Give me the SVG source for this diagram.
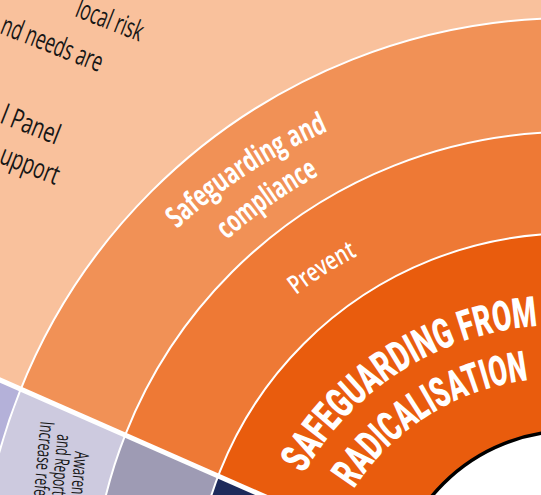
<svg xmlns="http://www.w3.org/2000/svg" width="541" height="495" viewBox="0 0 541 495">
<style>
.note{font-family:"Open Sans","Noto Sans",sans-serif;font-size:28px;fill:#161616}
.seg{font-family:"Open Sans","Noto Sans",sans-serif;font-size:20px;fill:#161616}
.ringlbl{font-family:"Open Sans","Noto Sans",sans-serif;font-weight:700;font-size:30px;fill:#ffffff}
.prev{font-family:"Open Sans","Noto Sans",sans-serif;font-weight:600;font-size:26px;fill:#ffffff}
.core{font-family:"Roboto","Liberation Sans",sans-serif;font-weight:900;font-size:42px;fill:#ffffff}
.arc{fill:none;stroke:#ffffff;stroke-width:2}
</style>
<defs>
<clipPath id="top"><polygon points="-10,-10 600,-10 600,644 -10,375.6"/></clipPath>
<clipPath id="bot"><polygon points="-10,375.6 600,644 600,700 -10,700"/></clipPath>
<path id="p1" d="M177,229 A545,545 0 0 1 328,131"/>
<path id="p2" d="M227,240 A508,508 0 0 1 321,174"/>
<path id="p3" d="M296,295 A418,418 0 0 1 359,255"/>
<path id="p4" d="M304,474 A293,293 0 0 1 538,326"/>
<path id="p5" d="M354,489 A241,241 0 0 1 532,380"/>
</defs>

<g id="upper" clip-path="url(#top)">
  <g id="outer-area"><rect x="-10" y="-10" width="620" height="720" fill="#f9c19c"/></g>
  <g id="ring-safeguarding"><circle cx="570" cy="610" r="592" fill="#f19156"/></g>
  <g id="ring-prevent"><circle cx="570" cy="610" r="478" fill="#ee7935"/></g>
  <g id="ring-core"><circle cx="570" cy="610" r="376.5" fill="#e95c0d"/></g>
</g>
<g id="lower" clip-path="url(#bot)">
  <g id="lower-outer"><rect x="-10" y="-10" width="620" height="720" fill="#b4b1d9"/></g>
  <g id="segment-awareness"><circle cx="570" cy="610" r="592" fill="#cdcadf"/></g>
  <g id="segment-2"><circle cx="570" cy="610" r="478" fill="#9e9bb4"/></g>
  <g id="segment-3"><circle cx="570" cy="610" r="376.5" fill="#1e2b5b"/></g>
</g>
<g id="rings-lines">
  <circle class="arc" cx="570" cy="610" r="592"/>
  <circle class="arc" cx="570" cy="610" r="478"/>
  <circle class="arc" cx="570" cy="610" r="376.5"/>
</g>
<g id="centre"><circle cx="570" cy="610" r="179" fill="#ffffff" stroke="#000000" stroke-width="3.5"/></g>
<g id="connectors"><line x1="-10" y1="375.6" x2="300" y2="512" stroke="#ffffff" stroke-width="5"/></g>

<g id="notes">
  <text class="note" transform="translate(74,16) rotate(21.5)" textLength="70" lengthAdjust="spacingAndGlyphs">local risk</text>
  <text class="note" transform="translate(-1,33) rotate(21.5)" textLength="107" lengthAdjust="spacingAndGlyphs">nd needs are</text>
  <text class="note" transform="translate(-1,122.5) rotate(21.5)" textLength="61" lengthAdjust="spacingAndGlyphs">l Panel</text>
  <text class="note" transform="translate(-2,162.5) rotate(21.5)" textLength="61.5" lengthAdjust="spacingAndGlyphs">upport</text>
</g>
<g id="awareness-label">
  <text class="seg" transform="translate(75,451) rotate(95)" textLength="50" lengthAdjust="spacingAndGlyphs">Awarene</text>
  <text class="seg" transform="translate(57.5,434) rotate(95)" textLength="61" lengthAdjust="spacingAndGlyphs">and Report</text>
  <text class="seg" transform="translate(40.5,421) rotate(95)" textLength="75" lengthAdjust="spacingAndGlyphs">Increase refe</text>
</g>
<g id="ring-labels">
  <text class="ringlbl"><textPath href="#p1" textLength="181" lengthAdjust="spacingAndGlyphs">Safeguarding and</textPath></text>
  <text class="ringlbl"><textPath href="#p2" textLength="113" lengthAdjust="spacingAndGlyphs">compliance</textPath></text>
  <text class="prev"><textPath href="#p3" textLength="73" lengthAdjust="spacingAndGlyphs">Prevent</textPath></text>
  <text class="core"><textPath href="#p4" textLength="288" lengthAdjust="spacingAndGlyphs">SAFEGUARDING FROM</textPath></text>
  <text class="core"><textPath href="#p5" textLength="212" lengthAdjust="spacingAndGlyphs">RADICALISATION</textPath></text>
</g>
</svg>
